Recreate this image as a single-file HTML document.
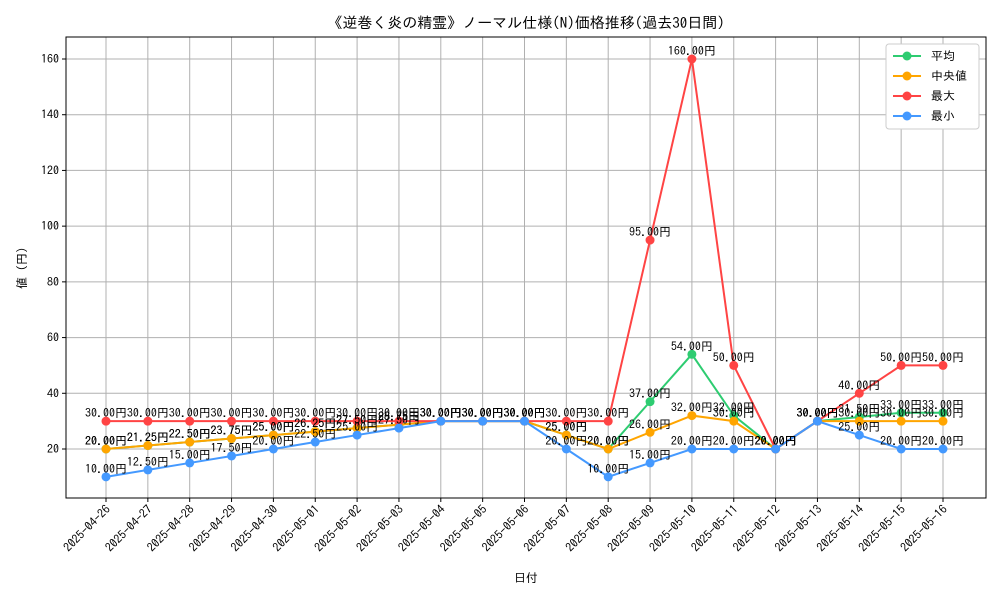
<!DOCTYPE html>
<html><head><meta charset="utf-8"><style>
body{margin:0;background:#fff;font-family:"IPAGothic","Liberation Sans","Noto Sans CJK JP",sans-serif;}
text{font-family:"IPAGothic","Liberation Sans","Noto Sans CJK JP",sans-serif;}
</style></head><body>
<svg id="c" width="1000" height="600" xmlns="http://www.w3.org/2000/svg"></svg>
<script>
const categories=["2025-04-26","2025-04-27","2025-04-28","2025-04-29","2025-04-30","2025-05-01","2025-05-02","2025-05-03","2025-05-04","2025-05-05","2025-05-06","2025-05-07","2025-05-08","2025-05-09","2025-05-10","2025-05-11","2025-05-12","2025-05-13","2025-05-14","2025-05-15","2025-05-16"];
const meanVals=[20,21.25,22.5,23.75,25,26.25,27.5,28.75,30,30,30,25,20,37,54,32,20,30,31.5,33,33];
const medianVals=[20,21.25,22.5,23.75,25,26.25,27.5,28.75,30,30,30,25,20,26,32,30,20,30,30,30,30];
const maxVals=[30,30,30,30,30,30,30,30,30,30,30,30,30,95,160,50,20,30,40,50,50];
const minVals=[10,12.5,15,17.5,20,22.5,25,27.5,30,30,30,20,10,15,20,20,20,30,25,20,20];
const yTicks=[20,40,60,80,100,120,140,160];
const seriesNames=["平均","中央値","最大","最小"];
const colors=["#2ecc71","#ffa500","#ff4444","#4499ff"];
const svg=document.getElementById('c');const NS="http://www.w3.org/2000/svg";
function el(t,a,txt){const e=document.createElementNS(NS,t);for(const k in a)e.setAttribute(k,a[k]);if(txt!==undefined)e.textContent=txt;svg.appendChild(e);return e;}
const L=66,R=986,T=37,B=498;
const x=i=>106+i*(943-106)/(categories.length-1);
const y=v=>449-(v-20)*(449-59)/140;
yTicks.forEach(v=>{const g=el('line',{x1:L,x2:R,y1:y(v),y2:y(v),stroke:'#b0b0b0','stroke-width':1});
const t=el('text',{x:L-7,y:y(v)+4,'text-anchor':'end','font-size':12},String(v));
el('line',{x1:L-4,x2:L,y1:y(v),y2:y(v),stroke:'#000'});});
categories.forEach((c,i)=>{const g=el('line',{x1:x(i),x2:x(i),y1:T,y2:B,stroke:'#b0b0b0','stroke-width':1});
el('line',{x1:x(i),x2:x(i),y1:B,y2:B+4,stroke:'#000'});
const t=el('text',{x:x(i)+5,y:B+12,'text-anchor':'end','font-size':12,transform:`rotate(-45 ${x(i)+5} ${B+12})`},c);});
const fr=el('rect',{x:L,y:T,width:R-L,height:B-T,fill:'none',stroke:'#000','stroke-width':1});
const all=[meanVals,medianVals,maxVals,minVals];
all.forEach((vals,s)=>{const p=el('polyline',{points:vals.map((v,i)=>x(i)+','+y(v)).join(' '),fill:'none',stroke:colors[s],'stroke-width':2});
vals.forEach((v,i)=>{const c=el('circle',{cx:x(i),cy:y(v),r:4.5,fill:colors[s]});});});
all.forEach((vals,s)=>{vals.forEach((v,i)=>{const t=el('text',{x:x(i),y:y(v)-4,'text-anchor':'middle','font-size':12},v.toFixed(2)+'円');});});
const tt=el('text',{x:526,y:28,'text-anchor':'middle','font-size':15},'《逆巻く炎の精霊》ノーマル仕様(N)価格推移(過去30日間)');
const xt=el('text',{x:526,y:582,'text-anchor':'middle','font-size':12},'日付');
const yt=el('text',{x:26,y:268,'text-anchor':'middle','font-size':12,transform:'rotate(-90 26 268)'},'値 (円)');
const lg=el('rect',{x:886,y:44,width:93,height:85,fill:'#fff',stroke:'#ccc',rx:3});
seriesNames.forEach((n,s)=>{const yy=56+s*20;el('line',{x1:893,x2:921,y1:yy,y2:yy,stroke:colors[s],'stroke-width':2});el('circle',{cx:907,cy:yy,r:4.5,fill:colors[s]});
const t=el('text',{x:931,y:yy+4,'font-size':12},n);});
</script></body></html>
